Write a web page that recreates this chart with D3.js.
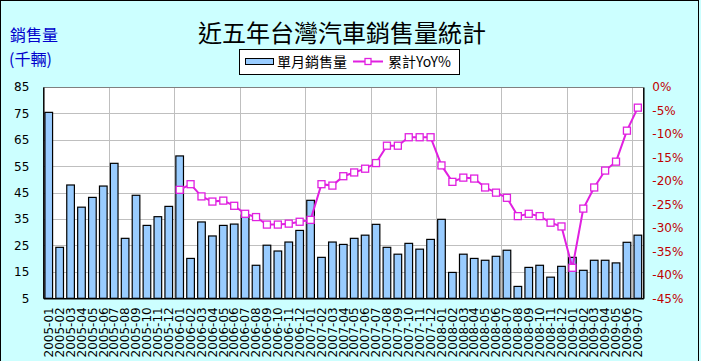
<!DOCTYPE html>
<html><head><meta charset="utf-8">
<script src="https://cdn.jsdelivr.net/npm/d3@7"></script>
<style>
html,body{margin:0;padding:0;background:#CCFFFF;}
svg{display:block;}
</style>
</head><body>
<svg id="c" width="701" height="361"></svg>
<script>
const categories = ["2005-01","2005-02","2005-03","2005-04","2005-05","2005-06","2005-07","2005-08","2005-09","2005-10","2005-11","2005-12",
"2006-01","2006-02","2006-03","2006-04","2006-05","2006-06","2006-07","2006-08","2006-09","2006-10","2006-11","2006-12",
"2007-01","2007-02","2007-03","2007-04","2007-05","2007-06","2007-07","2007-08","2007-09","2007-10","2007-11","2007-12",
"2008-01","2008-02","2008-03","2008-04","2008-05","2008-06","2008-07","2008-08","2008-09","2008-10","2008-11","2008-12",
"2009-01","2009-02","2009-03","2009-04","2009-05","2009-06","2009-07"];
const monthlySales = [75.4,24.3,47.9,39.5,43.2,47.5,56.1,27.7,44.0,32.6,35.9,39.8,
58.9,20.1,33.9,28.6,32.6,33.1,36.5,17.5,25.1,22.9,26.3,30.7,
42.1,20.5,26.3,25.4,27.7,28.9,33.0,24.3,21.7,25.8,23.6,27.3,
34.9,14.8,21.7,20.1,19.4,20.9,23.2,9.5,16.7,17.5,13.0,17.1,
20.5,15.6,19.4,19.4,18.4,26.2,28.9];
const yoyCategories = categories.slice(12);
const yoyValues = [-21.9,-20.7,-23.3,-24.4,-24.2,-25.3,-27.0,-27.7,-29.3,-29.3,-29.1,-28.7,
-28.3,-20.7,-21.0,-19.0,-18.2,-17.4,-16.2,-12.5,-12.5,-10.7,-10.7,-10.7,
-16.7,-20.2,-19.3,-19.5,-21.4,-22.5,-23.6,-27.5,-27.0,-27.5,-28.9,-29.7,
-38.5,-25.9,-21.4,-17.8,-15.9,-9.3,-4.4];
const leftTicks = [5,15,25,35,45,55,65,75,85];
const rightTicks = [0,-5,-10,-15,-20,-25,-30,-35,-40,-45];
const titleText = "近五年台灣汽車銷售量統計";
const yTitle1 = "銷售量", yTitle2 = "(千輛)";
const legendBar = "單月銷售量", legendLine = "累計YoY%";

const svg = d3.select("#c");
const L = 43.3, R = 643.3, T = 87, B = 298.3;
const lineColor = "#E020E0";
const cjk = "'Noto Sans CJK TC','Noto Sans CJK SC',sans-serif";
const lat = "'DejaVu Sans',Verdana,sans-serif";

// outer border
svg.append("rect").attr("x",0.5).attr("y",0.5).attr("width",698).attr("height",370)
  .attr("fill","#CCFFFF").attr("stroke","#000");

const x = d3.scaleBand().domain(categories).range([L,R]).paddingInner(0.3).paddingOuter(0.15);
const yL = d3.scaleLinear().domain([5,85]).range([B,T]);
const yR = d3.scaleLinear().domain([-45,0]).range([B,T]);
const step = x.step();

// plot area
svg.append("rect").attr("x",L).attr("y",T).attr("width",R-L).attr("height",B-T).attr("fill","#fff");

// horizontal grid
svg.append("g").selectAll("line").data(leftTicks.filter(t=>t>5&&t<85)).join("line")
  .attr("x1",L).attr("x2",R).attr("y1",d=>Math.round(yL(d))+0.5).attr("y2",d=>Math.round(yL(d))+0.5)
  .attr("stroke","#BFBFBF").attr("stroke-width",1);
// vertical grid every 6 months
const vIdx = d3.range(6,55,6);
svg.append("g").selectAll("line").data(vIdx).join("line")
  .attr("x1",i=>Math.round(x(categories[i]) - x.paddingInner()*step/2)+0.5)
  .attr("x2",i=>Math.round(x(categories[i]) - x.paddingInner()*step/2)+0.5)
  .attr("y1",T).attr("y2",B).attr("stroke","#BFBFBF");

// plot border
svg.append("line").attr("x1",L).attr("x2",R).attr("y1",T+0.5).attr("y2",T+0.5).attr("stroke","#808080");

// bars
svg.append("g").selectAll("rect").data(monthlySales).join("rect")
  .attr("x",(d,i)=>x(categories[i])).attr("width",x.bandwidth())
  .attr("y",d=>yL(d)).attr("height",d=>B-yL(d))
  .attr("fill","#99CCFF").attr("stroke","#000").attr("stroke-width",1.2);

// line
const pts = yoyValues.map((v,i)=>[x(yoyCategories[i])+x.bandwidth()/2, yR(v)]);
svg.append("path").attr("d",d3.line()(pts)).attr("fill","none").attr("stroke",lineColor).attr("stroke-width",2);
svg.append("g").selectAll("rect").data(pts).join("rect")
  .attr("x",d=>d[0]-3.5).attr("y",d=>d[1]-3.5).attr("width",7).attr("height",7)
  .attr("fill","#fff").attr("stroke",lineColor).attr("stroke-width",1.3);

// axes
const axL = svg.append("g").attr("transform",`translate(${L},0)`)
  .call(d3.axisLeft(yL).tickValues(leftTicks).tickSize(0).tickPadding(14));
axL.select(".domain").attr("stroke","#000").attr("stroke-width",1.5);
axL.selectAll("text").attr("font-family",lat).attr("font-size","12px").attr("fill","#000");

const axR = svg.append("g").attr("transform",`translate(${R},0)`)
  .call(d3.axisRight(yR).tickValues(rightTicks).tickSize(0).tickPadding(9).tickFormat(d=>d+"%"));
axR.select(".domain").attr("stroke","#000").attr("stroke-width",1.5);
axR.selectAll("text").attr("font-family",lat).attr("font-size","12px").attr("fill","#C00000");

const axB = svg.append("g").attr("transform",`translate(0,${B})`)
  .call(d3.axisBottom(x).tickSize(0));
axB.select(".domain").attr("stroke","#000").attr("stroke-width",1.5);
axB.selectAll("text").attr("font-family",lat).attr("font-size","12px").attr("fill","#000")
  .attr("text-anchor","end").attr("transform","rotate(-90)").attr("x",-9).attr("y",0).attr("dy","0.35em");

// title
svg.append("text").attr("x",342).attr("y",42).attr("text-anchor","middle")
  .attr("font-family",cjk).attr("font-size","24px").attr("fill","#000").text(titleText);
svg.append("text").attr("x",10).attr("y",41).attr("font-family",cjk).attr("font-size","16px").attr("fill","#0000CC").text(yTitle1);
svg.append("text").attr("x",9).attr("y",65).attr("font-family",cjk).attr("font-size","16px").attr("fill","#0000CC").text(yTitle2);

// legend
const lg = svg.append("g");
lg.append("rect").attr("x",239.5).attr("y",49.5).attr("width",220).attr("height",25).attr("fill","#fff").attr("stroke","#000");
lg.append("rect").attr("x",245.5).attr("y",58.5).attr("width",28).attr("height",6).attr("fill","#99CCFF").attr("stroke","#000");
lg.append("text").attr("x",277).attr("y",67).attr("font-family",cjk).attr("font-size","14px").attr("fill","#000").text(legendBar);
lg.append("line").attr("x1",353).attr("x2",383).attr("y1",61.5).attr("y2",61.5).attr("stroke",lineColor).attr("stroke-width",2);
lg.append("rect").attr("x",365).attr("y",58.5).attr("width",6).attr("height",6).attr("fill","#fff").attr("stroke",lineColor).attr("stroke-width",1.3);
lg.append("text").attr("x",388).attr("y",67).attr("font-family",cjk).attr("font-size","14px").attr("fill","#000").text(legendLine);
</script>
</body></html>
